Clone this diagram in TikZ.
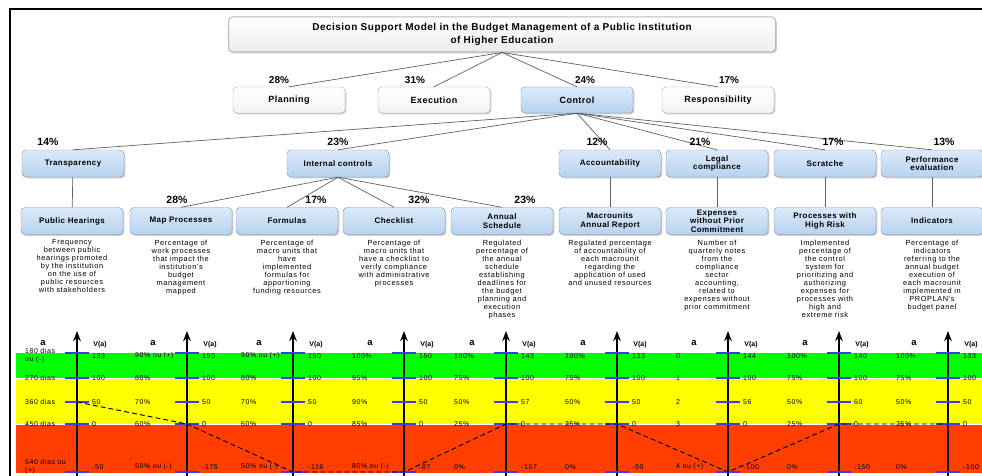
\documentclass[tikz,border=0pt]{standalone}
\usepackage{fontspec}
\setmainfont{Liberation Sans}
\newfontfamily\descfont[LetterSpace=8]{Liberation Sans}
\newfontfamily\boxfont[LetterSpace=5]{Liberation Sans}
\usetikzlibrary{positioning,arrows.meta,shadows}

\definecolor{boxtop}{RGB}{220,234,250}
\definecolor{boxbot}{RGB}{182,210,238}
\definecolor{boxedge}{RGB}{125,145,170}
\definecolor{bandgreen}{RGB}{0,255,0}
\definecolor{bandyellow}{RGB}{255,255,0}
\definecolor{bandred}{RGB}{255,62,0}
\definecolor{tickblue}{RGB}{60,60,245}

\tikzset{
    >=Stealth,
    link/.style = {draw=gray!75!black, line width=0.7pt},
    shadowed/.style = {drop shadow={shadow xshift=1.3pt, shadow yshift=-1.3pt, opacity=0.4}},
    titlebox/.style = {shadowed, draw=gray!55, line width=1pt, rounded corners=4pt,
        top color=white, bottom color=gray!15, minimum width=547pt, minimum height=35pt,
        align=center, font=\boxfont\bfseries\fontsize{10}{12.5}\selectfont},
    plainbox/.style = {shadowed, draw=gray!65, rounded corners=4pt, top color=white,
        bottom color=gray!10, minimum width=112pt, minimum height=26pt,
        font=\boxfont\bfseries\fontsize{9}{10}\selectfont},
    bluebox/.style = {shadowed, draw=boxedge, rounded corners=4pt, top color=boxtop,
        bottom color=boxbot, minimum width=102pt, minimum height=27pt, inner sep=1pt,
        align=center, font=\boxfont\bfseries\fontsize{8}{8.3}\selectfont},
    toppct/.style = {inner sep=0pt, font=\bfseries\fontsize{10}{11}\selectfont},
    pct/.style = {inner sep=0pt, font=\bfseries\fontsize{10.5}{12}\selectfont},
    desc/.style = {align=center, inner sep=0pt, font=\descfont\fontsize{7.4}{8}\selectfont},
    axis/.style = {->, line width=1.6pt},
    tickmark/.style = {draw=tickblue, line width=1.4pt},
    scalelab/.style = {anchor=west, align=left, inner sep=0pt, font=\descfont\fontsize{7}{8}\selectfont},
    profile/.style = {dash pattern=on 5pt off 3pt, line width=0.9pt},
}

\begin{document}
\begin{tikzpicture}[x=1pt, y=-1pt]
\useasboundingbox (0,0) rectangle (982,476);
\draw[line width=1.5pt] (10,476) -- (10,9) -- (982,9);

% top of the tree
\node[titlebox] (model) at (502,34.5)
    {Decision Support Model in the Budget Management of a Public Institution\\of Higher Education};

\node[plainbox] (planning) at (289,100) {Planning};
\node[plainbox] (execution) at (434,100) {Execution};
\node[plainbox, draw=boxedge, top color=boxtop, bottom color=boxbot] (control) at (577,100) {Control};
\node[plainbox] (responsib) at (718,100) {Responsibility};

\foreach \n in {planning,execution,control,responsib}
    \draw[link] (model.south) -- (\n.north);

\node[toppct] (p-plan) at (279,80) {28\%};
\node[toppct] (p-exec) at (415,80) {31\%};
\node[toppct] (p-ctrl) at (585,80) {24\%};
\node[toppct] (p-resp) at (729,80) {17\%};

% criteria under control
\node[bluebox] (transp) at (73,163.5) {Transparency};
\node[bluebox] (intctrl) at (338,163.5) {Internal controls};
\node[bluebox] (account) at (610,163.5) {Accountability};
\node[bluebox] (legal) at (717,163.5) {Legal\\compliance};
\node[bluebox] (scratche) at (825,163.5) {Scratche};
\node[bluebox] (perform) at (932,163.5) {Performance\\evaluation};

\foreach \n in {transp,intctrl,account,legal,scratche,perform}
    \draw[link] (control.south) -- (\n.north);

\node[pct] at (48,142) {14\%};
\node[pct] at (338,142) {23\%};
\node[pct] at (597,142) {12\%};
\node[pct] at (700,142) {21\%};
\node[pct] at (833,142) {17\%};
\node[pct] at (944,142) {13\%};

% descriptors
\node[bluebox] (hearings) at (72,221) {Public Hearings};
\node[bluebox] (mapproc) at (181,221) {Map Processes};
\node[bluebox] (formulas) at (287,221) {Formulas};
\node[bluebox] (checklist) at (394,221) {Checklist};
\node[bluebox] (schedule) at (502,221) {Annual\\Schedule};
\node[bluebox] (report) at (610,221) {Macrounits\\Annual Report};
\node[bluebox] (expenses) at (717,221) {Expenses\\without Prior\\Commitment};
\node[bluebox] (risk) at (825,221) {Processes with\\High Risk};
\node[bluebox] (indicat) at (932,221) {Indicators};

\draw[link] (transp) -- (hearings);
\draw[link] (account) -- (report);
\draw[link] (legal) -- (expenses);
\draw[link] (scratche) -- (risk);
\draw[link] (perform) -- (indicat);
\foreach \n in {mapproc,formulas,checklist,schedule}
    \draw[link] (intctrl.south) -- (\n.north);

\node[pct] at (177,200) {28\%};
\node[pct] at (316,200) {17\%};
\node[pct] at (419,200) {32\%};
\node[pct] at (525,200) {23\%};

\node[desc, below=5pt of hearings] {Frequency\\between public\\hearings promoted\\by the institution\\on the use of\\public resources\\with stakeholders};
\node[desc, below=5pt of mapproc] {Percentage of\\work processes\\that impact the\\institution's\\budget\\management\\mapped};
\node[desc, below=5pt of formulas] {Percentage of\\macro units that\\have\\implemented\\formulas for\\apportioning\\funding resources};
\node[desc, below=5pt of checklist] {Percentage of\\macro units that\\have a checklist to\\verify compliance\\with administrative\\processes};
\node[desc, below=5pt of schedule] {Regulated\\percentage of\\the annual\\schedule\\establishing\\deadlines for\\the budget\\planning and\\execution\\phases};
\node[desc, below=5pt of report] {Regulated percentage\\of accountability of\\each macrounit\\regarding the\\application of used\\and unused resources};
\node[desc, below=5pt of expenses] {Number of\\quarterly notes\\from the\\compliance\\sector\\accounting,\\related to\\expenses without\\prior commitment};
\node[desc, below=5pt of risk] {Implemented\\percentage of\\the control\\system for\\prioritizing and\\authorizing\\expenses for\\processes with\\high and\\extreme risk};
\node[desc, below=5pt of indicat] {Percentage of\\indicators\\referring to the\\annual budget\\execution of\\each macrounit\\implemented in\\PROPLAN's\\budget panel};

% value scales
\fill[bandgreen] (16,353) rectangle (982,378);
\fill[bandyellow] (16,378) rectangle (982,424);
\fill[bandred] (16,424) rectangle (982,473);
\draw[white, line width=0.8pt] (16,378) -- (982,378) (16,424) -- (982,424);

\foreach \i/\X/\la/\lb/\lc/\ld/\le/\va/\vb/\vc/\vd/\ve in {
    1/77/{180 dias\\ou (-)}/270 dias/360 dias/450 dias/{540 dias ou\\(+)}/133/100/50/0/-50,
    2/187/90\% ou (+)/80\%/70\%/60\%/50\% ou (-)/150/100/50/0/-175,
    3/293/90\% ou (+)/80\%/70\%/60\%/50\% ou (-)/150/100/50/0/-116,
    4/404/100\%/95\%/90\%/85\%/80\% ou (-)/150/100/50/0/-87,
    5/506/100\%/75\%/50\%/25\%/0\%/143/100/57/0/-157,
    6/617/100\%/75\%/50\%/25\%/0\%/133/100/50/0/-50,
    7/728/0/1/2/3/4 ou (+)/144/100/56/0/-100,
    8/839/100\%/75\%/50\%/25\%/0\%/140/100/60/0/-150,
    9/948/100\%/75\%/50\%/25\%/0\%/133/100/50/0/-100}
{
    \draw[axis] (\X,476) -- (\X,331);
    \node[font=\bfseries\fontsize{9.5}{10}\selectfont] at (\X-34,343) {a};
    \node[font=\bfseries\fontsize{7}{8}\selectfont] at (\X+23,345) {V(a)};
    \foreach \y [count=\k] in {353,378,402,424,472} {
        \coordinate (ax\i-\k) at (\X,\y);
        \draw[tickmark] ([xshift=-12pt]ax\i-\k) -- ([xshift=12pt]ax\i-\k);
    }
    \node[scalelab] at (\X-52,356) {\la};
    \node[scalelab] at (\X-52,378) {\lb};
    \node[scalelab] at (\X-52,402) {\lc};
    \node[scalelab] at (\X-52,424) {\ld};
    \node[scalelab] at (\X-52,467) {\le};
    \node[scalelab] at (\X+15,356) {\va};
    \node[scalelab] at (\X+15,378) {\vb};
    \node[scalelab] at (\X+15,402) {\vc};
    \node[scalelab] at (\X+15,424) {\vd};
    \node[scalelab] at (\X+15,467) {\ve};
}

\draw[profile] (ax1-3) -- (ax2-4) -- (ax3-5) -- (ax4-5) -- (ax5-4) -- (ax6-4)
    -- (ax7-5) -- (ax8-4) -- (ax9-4);
\end{tikzpicture}
\end{document}
